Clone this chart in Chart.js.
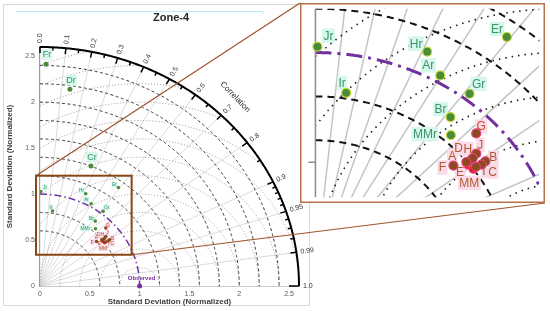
<!DOCTYPE html>
<html>
<head>
<meta charset="utf-8">
<script src="https://cdn.jsdelivr.net/npm/chart.js@4.4.1/dist/chart.umd.min.js"></script>
<style>
  body { margin: 0; background: #fff; }
  #wrap { position: relative; width: 550px; height: 311px; overflow: hidden; }
  canvas { position: absolute; }
</style>
</head>
<body>
<div id="wrap">
  <canvas id="main" width="550" height="311" style="left:0;top:0"></canvas>
  <canvas id="zoom" width="245" height="200"></canvas>
</div>
<script>
// Taylor diagram values (normalized std dev + correlation)
const greenNames = ['Fr', 'Dr', 'Cr', 'Jr', 'Hr', 'Er', 'Ar', 'Ir', 'Gr', 'Br', 'MMr'];
const greenStd   = [2.414, 2.162, 1.401, 1.027, 1.104, 1.329, 1.032, 0.826, 1.030, 0.898, 0.836];
const greenCorr  = [0.025, 0.139, 0.365, 0.008, 0.416, 0.592, 0.497, 0.153, 0.615, 0.618, 0.666];

const brownNames = ['G', 'J', 'H', 'A', 'B', 'C', 'F', 'I'];
const brownStd   = [0.914, 0.853, 0.829, 0.797, 0.861, 0.840, 0.746, 0.815];
const brownCorr  = [0.723, 0.775, 0.780, 0.778, 0.811, 0.813, 0.760, 0.809];

const redNames = ['D', 'E', 'MM'];
const redStd   = [0.815, 0.795, 0.801];
const redCorr  = [0.782, 0.789, 0.810];

const obsStd = 1;
const maxStd = 2.6;
const stdTicks = [0, 0.5, 1, 1.5, 2, 2.5];
const corrMajor = [0, 0.1, 0.2, 0.3, 0.4, 0.5, 0.6, 0.7, 0.8, 0.9, 0.95, 0.99, 1];
const corrLabels = ['0.0', '0.1', '0.2', '0.3', '0.4', '0.5', '0.6', '0.7', '0.8', '0.9', '0.95', '0.99', '1.0'];
const corrMinor = [0.05, 0.15, 0.25, 0.35, 0.45, 0.55, 0.65, 0.75, 0.85, 0.91, 0.92, 0.93, 0.94, 0.96, 0.97, 0.98];
const radialCorr = [0.1, 0.2, 0.3, 0.4, 0.5, 0.6, 0.7, 0.8, 0.9, 0.95, 0.99];
const stdArcs = [0.6, 0.8, 1.2, 1.4, 1.6, 1.8, 2.0, 2.2, 2.4];
const rmsArcs = [0.2, 0.4, 0.6, 0.8, 1.0, 1.2, 1.4, 1.6, 1.8, 2.0, 2.2, 2.4, 2.6, 2.8, 3.0, 3.2, 3.4];
const zoomX = [-0.04, 0.92];
const zoomY = [0.34, 1.20];

// label offsets in zoom-panel pixels (main view scales them down)
const labelOffsets = {
  Fr: [2.5, -25], Dr: [2.5, -23], Cr: [2.5, -23],
  Jr: [11, -11], Hr: [-11, -8], Er: [-10, -8], Ar: [-12, -10], Ir: [-4, -10],
  Gr: [9, -10], Br: [-10, -8], MMr: [-26, -1],
  G: [5, -7], J: [4, -9], D: [-12, -12], H: [-5, -9], A: [-14, -6], B: [8, -4],
  C: [11, 7], F: [-11, 2], E: [-8, 7], I: [8, 4], MM: [-4, 14]
};

const insetBox = { left: 300, top: 3, width: 245, height: 200 };
const FONT = "'Liberation Sans', Arial, sans-serif";
const PURPLE = '#7030a0';
const BROWN = '#a0522d';

const zoomCanvas = document.getElementById('zoom');
zoomCanvas.style.left = insetBox.left + 'px';
zoomCanvas.style.top = insetBox.top + 'px';

function toXY(s, c) {
  return { x: s * c, y: s * Math.sqrt(1 - c * c) };
}
const toPoints = (std, corr) => std.map((s, i) => toXY(s, corr[i]));
const inZoom = (p) => p && p.x >= zoomX[0] && p.x <= zoomX[1] && p.y >= zoomY[0] && p.y <= zoomY[1];

function curvePath(ctx, toPx, fn, t0, t1, n) {
  let pen = false;
  for (let i = 0; i <= n; i++) {
    const p = fn(t0 + (t1 - t0) * i / n);
    if (!p) { pen = false; continue; }
    const [X, Y] = toPx(p[0], p[1]);
    if (pen) ctx.lineTo(X, Y); else { ctx.moveTo(X, Y); pen = true; }
  }
}

function pxFn(chart) {
  const xs = chart.scales.x, ys = chart.scales.y;
  return (u, v) => [xs.getPixelForValue(u), ys.getPixelForValue(v)];
}

function drawGrid(chart, st) {
  const { ctx, chartArea: a } = chart;
  const toPx = pxFn(chart);
  const inside = (u, v) => u >= 0 && v >= 0 && u * u + v * v <= maxStd * maxStd;
  ctx.save();
  ctx.beginPath();
  ctx.rect(a.left, a.top, a.right - a.left, a.bottom - a.top);
  ctx.clip();

  ctx.strokeStyle = st.radial; ctx.lineWidth = st.radialW; ctx.setLineDash([]);
  ctx.beginPath();
  radialCorr.forEach(c => {
    const [x0, y0] = toPx(0, 0);
    const [x1, y1] = toPx(maxStd * c, maxStd * Math.sqrt(1 - c * c));
    ctx.moveTo(x0, y0); ctx.lineTo(x1, y1);
  });
  ctx.stroke();

  ctx.strokeStyle = st.rms; ctx.lineWidth = st.rmsW; ctx.setLineDash(st.rmsDash);
  rmsArcs.forEach(r => {
    ctx.beginPath();
    curvePath(ctx, toPx, t => {
      const u = obsStd + r * Math.cos(t), v = r * Math.sin(t);
      return inside(u, v) ? [u, v] : null;
    }, 0, Math.PI, 500);
    ctx.stroke();
  });

  ctx.strokeStyle = st.std; ctx.lineWidth = st.stdW; ctx.setLineDash(st.stdDash);
  stdArcs.forEach(r => {
    ctx.beginPath();
    curvePath(ctx, toPx, t => [r * Math.cos(t), r * Math.sin(t)], Math.PI / 2, 0, 300);
    ctx.stroke();
  });

  ctx.strokeStyle = PURPLE; ctx.lineWidth = st.obsW; ctx.setLineDash(st.obsDash);
  ctx.beginPath();
  curvePath(ctx, toPx, t => [obsStd * Math.cos(t), obsStd * Math.sin(t)], Math.PI / 2, 0, 300);
  ctx.stroke();
  ctx.restore();
}

function drawCorrAxis(chart) {
  const ctx = chart.ctx;
  const toPx = pxFn(chart);
  const [ox, oy] = toPx(0, 0);
  const dirAt = (c) => {
    const [px, py] = toPx(maxStd * c, maxStd * Math.sqrt(1 - c * c));
    const L = Math.hypot(px - ox, py - oy);
    return { px, py, dx: (px - ox) / L, dy: (py - oy) / L };
  };
  ctx.save();
  ctx.strokeStyle = '#000'; ctx.lineWidth = 2; ctx.setLineDash([]);
  ctx.beginPath();
  curvePath(ctx, toPx, t => [maxStd * Math.cos(t), maxStd * Math.sin(t)], 0, Math.PI / 2, 300);
  ctx.stroke();

  ctx.lineWidth = 1.5;
  const tick = (c, len) => {
    const d = dirAt(c);
    ctx.beginPath();
    ctx.moveTo(d.px, d.py);
    ctx.lineTo(d.px - d.dx * len, d.py - d.dy * len);
    ctx.stroke();
  };
  corrMajor.forEach(c => tick(c, c === 1 ? 10 : 6));
  corrMinor.forEach(c => tick(c, 3.5));

  ctx.fillStyle = '#333';
  ctx.font = `7px ${FONT}`;
  ctx.textAlign = 'left'; ctx.textBaseline = 'middle';
  corrMajor.forEach((c, i) => {
    const d = dirAt(c);
    ctx.save();
    ctx.translate(d.px + d.dx * 4, d.py + d.dy * 4);
    ctx.rotate(Math.atan2(d.dy, d.dx));
    ctx.fillText(corrLabels[i], 0, 0);
    ctx.restore();
  });

  const d = dirAt(0.69);
  ctx.save();
  ctx.translate(d.px + d.dx * 23, d.py + d.dy * 23);
  ctx.rotate(Math.atan2(d.dy, d.dx) + Math.PI / 2);
  ctx.textAlign = 'center';
  ctx.font = `8px ${FONT}`;
  ctx.fillStyle = '#262626';
  ctx.fillText('Correlation', 0, 0);
  ctx.restore();

  // observed label
  const [obx, oby] = toPx(obsStd, 0);
  ctx.fillStyle = PURPLE;
  ctx.font = `bold 6px ${FONT}`;
  ctx.textAlign = 'center';
  ctx.fillText('Observed', obx + 2, oby - 8);
  ctx.restore();
}

function drawPointLabels(chart, mode, isMain) {
  const { ctx, chartArea: a } = chart;
  const xs = chart.scales.x;
  const k = isMain ? insetBox.width / (xs.getPixelForValue(zoomX[1]) - xs.getPixelForValue(zoomX[0])) : 1;
  ctx.save();
  ctx.textAlign = 'center'; ctx.textBaseline = 'middle';
  chart.data.datasets.forEach((ds, di) => {
    if (!ds.names) return;
    chart.getDatasetMeta(di).data.forEach((el, i) => {
      if (el.x < a.left - 1 || el.x > a.right + 1 || el.y < a.top - 1 || el.y > a.bottom + 1) return;
      const name = ds.names[i];
      const off = labelOffsets[name];
      const small = isMain && inZoom(ds.data[i]);
      const size = isMain ? (small ? 4.8 : 9) : 12;
      const cx = el.x + off[0] / k, cy = el.y + off[1] / k;
      ctx.font = `${size}px ${FONT}`;
      if (mode === 'bg') {
        const w = ctx.measureText(name).width;
        ctx.fillStyle = ds.labelBg;
        ctx.fillRect(cx - w / 2 - size * 0.12, cy - size * 0.6, w + size * 0.24, size * 1.2);
      } else {
        ctx.fillStyle = name === 'G' ? '#d0452a' : ds.labelColor;
        ctx.fillText(name, cx, cy + size * 0.05);
      }
    });
  });
  ctx.restore();
}

function makeDatasets(isInset) {
  const rMain = (c) => inZoom(c.raw) ? 1.8 : 2.5;
  return [
    {
      label: 'Green', names: greenNames, data: toPoints(greenStd, greenCorr),
      backgroundColor: '#4b8a36', borderColor: isInset ? '#c3d83a' : '#4b8a36',
      borderWidth: isInset ? 1.2 : 0, pointRadius: isInset ? 4.5 : rMain,
      labelColor: '#3a9468', labelBg: '#d6f7ec'
    },
    {
      label: 'Brown', names: brownNames, data: toPoints(brownStd, brownCorr),
      backgroundColor: '#8c4a1e', borderColor: isInset ? '#e4407a' : '#8c4a1e',
      borderWidth: isInset ? 1.2 : 0, pointRadius: isInset ? 4.5 : 1.8,
      labelColor: '#b0592c', labelBg: '#fbdbe9'
    },
    {
      label: 'Red', names: redNames, data: toPoints(redStd, redCorr),
      backgroundColor: '#e3122d', borderColor: isInset ? '#f0608e' : '#e3122d',
      borderWidth: isInset ? 1.2 : 0, pointRadius: isInset ? 4.5 : 1.8,
      labelColor: '#b0592c', labelBg: '#fbdbe9'
    }
  ];
}

const mainStyle = {
  radial: '#d2d2d2', radialW: 0.8,
  rms: '#9c9c9c', rmsW: 1, rmsDash: [1, 2],
  std: '#333', stdW: 1, stdDash: [3, 2.5],
  obsW: 1.5, obsDash: [7, 3, 1.5, 3]
};
const insetStyle = {
  radial: '#c4c4c4', radialW: 1.5,
  rms: '#1a1a1a', rmsW: 1.6, rmsDash: [1.5, 5],
  std: '#111', stdW: 2, stdDash: [7, 5],
  obsW: 3, obsDash: [16, 6, 3, 6]
};

const mainPlugin = {
  id: 'taylorMain',
  beforeDraw(chart) {
    const ctx = chart.ctx;
    ctx.save();
    ctx.fillStyle = '#fff';
    ctx.fillRect(0, 0, chart.width, chart.height);
    ctx.strokeStyle = '#d9d9d9'; ctx.lineWidth = 1;
    ctx.strokeRect(3.5, 4.5, 306, 301);
    ctx.strokeStyle = '#b9ecf7';
    ctx.beginPath(); ctx.moveTo(16, 11.5); ctx.lineTo(263, 11.5); ctx.lineTo(263, 14); ctx.stroke();
    ctx.fillStyle = '#262626';
    ctx.font = `bold 11px ${FONT}`;
    ctx.textAlign = 'center'; ctx.textBaseline = 'middle';
    ctx.fillText('Zone-4', 171, 18);
    ctx.restore();
  },
  beforeDatasetsDraw(chart) {
    drawGrid(chart, mainStyle);
    drawCorrAxis(chart);
    drawPointLabels(chart, 'bg', true);
  },
  afterDatasetsDraw(chart) {
    drawPointLabels(chart, 'text', true);
    const ctx = chart.ctx;
    const toPx = pxFn(chart);
    const [x0, y0] = toPx(zoomX[0], zoomY[1]);
    const [x1, y1] = toPx(zoomX[1], zoomY[0]);
    ctx.save();
    ctx.strokeStyle = BROWN; ctx.lineWidth = 1.2;
    ctx.beginPath();
    ctx.moveTo(x0, y0); ctx.lineTo(insetBox.left, insetBox.top);
    ctx.moveTo(x1, y1); ctx.lineTo(insetBox.left + insetBox.width, insetBox.top + insetBox.height);
    ctx.stroke();
    ctx.strokeStyle = '#8b4513'; ctx.lineWidth = 2;
    ctx.strokeRect(x0, y0, x1 - x0, y1 - y0);
    ctx.restore();
  }
};

const insetPlugin = {
  id: 'taylorInset',
  beforeDraw(chart) {
    const ctx = chart.ctx;
    ctx.save();
    ctx.fillStyle = '#fff';
    ctx.fillRect(0, 0, chart.width, chart.height);
    ctx.restore();
  },
  beforeDatasetsDraw(chart) {
    drawGrid(chart, insetStyle);
    const ctx = chart.ctx;
    const toPx = pxFn(chart);
    const [ax, ay0] = toPx(0, zoomY[1]);
    const [, ay1] = toPx(0, zoomY[0]);
    const [, t05] = toPx(0, 0.5);
    ctx.save();
    ctx.strokeStyle = '#8c8c8c'; ctx.lineWidth = 1.5;
    ctx.beginPath();
    ctx.moveTo(ax, ay0); ctx.lineTo(ax, ay1);
    ctx.moveTo(ax - 7, t05); ctx.lineTo(ax, t05);
    ctx.stroke();
    ctx.restore();
    drawPointLabels(chart, 'bg', false);
  },
  afterDatasetsDraw(chart) {
    drawPointLabels(chart, 'text', false);
    const ctx = chart.ctx;
    ctx.save();
    ctx.strokeStyle = '#b8704a'; ctx.lineWidth = 1.5;
    ctx.strokeRect(0.75, 0.75, chart.width - 1.5, chart.height - 1.5);
    ctx.restore();
  }
};

const tickFont = { size: 7, family: FONT };
const titleFont = { size: 8, family: FONT, weight: 'bold' };

new Chart(document.getElementById('main'), {
  type: 'scatter',
  data: {
    datasets: [
      ...makeDatasets(false),
      { label: 'Observed', data: [{ x: obsStd, y: 0 }], backgroundColor: PURPLE, borderWidth: 0, pointRadius: 2.5, clip: false }
    ]
  },
  options: {
    responsive: false,
    animation: false,
    events: [],
    layout: { padding: { left: 4, top: 47, right: 251, bottom: 4 } },
    plugins: { legend: { display: false }, tooltip: { enabled: false } },
    scales: {
      x: {
        type: 'linear', min: 0, max: maxStd,
        afterBuildTicks: s => { s.ticks = stdTicks.map(v => ({ value: v })); },
        afterFit: s => { s.height = 21; },
        grid: { display: false, drawTicks: false },
        border: { color: '#c8c8c8' },
        ticks: { font: tickFont, color: '#595959', padding: 4, maxRotation: 0, callback: v => String(v) },
        title: { display: true, text: 'Standard Deviation (Normalized)', font: titleFont, color: '#404040', padding: { top: 1, bottom: 0 } }
      },
      y: {
        type: 'linear', min: 0, max: maxStd,
        afterBuildTicks: s => { s.ticks = stdTicks.map(v => ({ value: v })); },
        afterFit: s => { s.width = 36; },
        grid: { display: false, drawTicks: false },
        border: { color: '#9a9a9a', width: 1.2 },
        ticks: { font: tickFont, color: '#595959', padding: 5, callback: v => String(v) },
        title: { display: true, text: 'Standard Deviation (Normalized)', font: titleFont, color: '#404040', padding: { top: 1, bottom: 0 } }
      }
    }
  },
  plugins: [mainPlugin]
});

new Chart(zoomCanvas, {
  type: 'scatter',
  data: { datasets: makeDatasets(true) },
  options: {
    responsive: false,
    animation: false,
    events: [],
    layout: { padding: 0 },
    plugins: { legend: { display: false }, tooltip: { enabled: false } },
    scales: {
      x: { type: 'linear', display: false, min: zoomX[0], max: zoomX[1] },
      y: { type: 'linear', display: false, min: zoomY[0], max: zoomY[1] }
    }
  },
  plugins: [insetPlugin]
});
</script>
</body>
</html>
